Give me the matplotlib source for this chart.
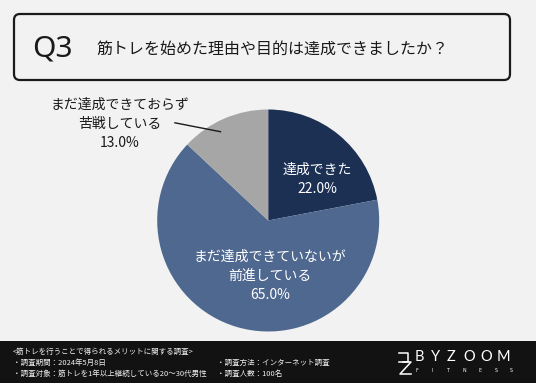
import matplotlib
matplotlib.use("Agg")
import matplotlib.pyplot as plt
from matplotlib.patches import FancyBboxPatch, Rectangle

plt.rcParams["font.family"] = ["Noto Sans CJK JP", "DejaVu Sans"]

# data
labels = ["達成できた", "まだ達成できていないが\n前進している", "まだ達成できておらず\n苦戦している"]
values = [22.0, 65.0, 13.0]
colors = ["#1c3054", "#4f688f", "#a6a6a6"]
label_colors = ["white", "white", "#1a1a1a"]

question = "筋トレを始めた理由や目的は達成できましたか？"
footer_left = ["<筋トレを行うことで得られるメリットに関する調査>",
               "・調査期間：2024年5月8日",
               "・調査対象：筋トレを1年以上継続している20～30代男性"]
footer_right = ["・調査方法：インターネット調査", "・調査人数：100名"]

W, H = 536, 383
BG = "#f2f2f2"

fig = plt.figure(figsize=(W / 100, H / 100), dpi=100)
fig.patch.set_facecolor(BG)

# background canvas in pixel coords (y down)
bg = fig.add_axes([0, 0, 1, 1])
bg.set_xlim(0, W)
bg.set_ylim(H, 0)
bg.axis("off")

box = FancyBboxPatch((14, 14), 496, 66, boxstyle="round,pad=0,rounding_size=6",
                     facecolor=BG, edgecolor="#1a1a1a", linewidth=1.6)
bg.add_patch(box)
bg.text(32, 49, "Q3", fontsize=21.5, va="center", ha="left", color="#1a1a1a",
        family=["Noto Sans", "DejaVu Sans"])
bg.text(97, 49, question, fontsize=11.5, va="center", ha="left", color="#1a1a1a")

# footer
bg.add_patch(Rectangle((0, 341), W, H - 341, facecolor="#121212", edgecolor="none"))
for i, t in enumerate(footer_left):
    bg.text(13, 352 + i * 11, t, fontsize=5.4, color="#f0f0f0", va="center", ha="left")
for i, t in enumerate(footer_right):
    bg.text(217, 363 + i * 11, t, fontsize=5.4, color="#f0f0f0", va="center", ha="left")

# logo: stylised B/Z mark
bg.plot([399, 408, 408, 399], [353, 353, 362, 362], color="white", lw=1.1)
bg.plot([403, 411, 400, 411], [362, 362, 374, 374], color="white", lw=1.1)
for ch, x in zip("BYZOOM", [415, 431, 447, 463, 480, 497]):
    bg.text(x, 357, ch, fontsize=10.5, color="white", va="center", ha="left",
            family=["Lato", "DejaVu Sans"])
for ch, x in zip("FITNESS", [417, 432, 448, 464, 480, 496, 511]):
    bg.text(x, 371, ch, fontsize=3.4, color="white", va="center", ha="center",
            family=["DejaVu Sans"])

# pie
cx, cy, r = 268.2, 220.5, 111
pie_ax = fig.add_axes([(cx - r) / W, (H - cy - r) / H, 2 * r / W, 2 * r / H])
pie_ax.pie(values, colors=colors, startangle=90, counterclock=False, radius=1,
           wedgeprops=dict(linewidth=0))
pie_ax.set_xlim(-1, 1)
pie_ax.set_ylim(-1, 1)
pie_ax.set_aspect("equal")
pie_ax.axis("off")

pos = [(0.44, 0.37), (0.015, -0.5), (-1.34, 0.87)]
for lab, v, (x, y), c in zip(labels, values, pos, label_colors):
    pie_ax.text(x, y, f"{lab}\n{v:.1f}%", ha="center", va="center", fontsize=10,
                color=c, linespacing=1.45, clip_on=False)
pie_ax.plot([-0.84, -0.43], [0.88, 0.80], color="#1a1a1a", lw=1, clip_on=False)

fig.savefig("out.png", dpi=100, facecolor=BG)
